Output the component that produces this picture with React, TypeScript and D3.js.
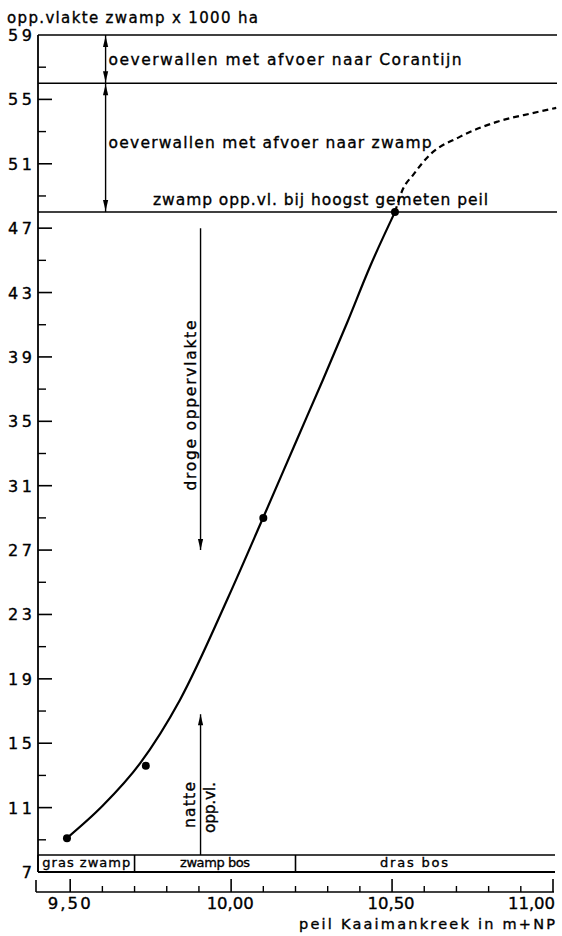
import React from "react";
import * as d3 from "d3";

// ---- data ----
const xDomain = [9.4, 11.0];
const yDomain = [7, 59];
const yMajorTicks = [7, 11, 15, 19, 23, 27, 31, 35, 39, 43, 47, 51, 55, 59];
const yMinorTicks = [9, 13, 17, 21, 25, 29, 33, 37, 41, 45, 49, 53, 57];
const xMajorTicks = [9.5, 10.0, 10.5, 11.0];
const xTickLabels = ["9,50", "10,00", "10,50", "11,00"];
const xMinorTicks = [9.6, 9.7, 9.8, 9.9, 10.1, 10.2, 10.3, 10.4, 10.6, 10.7, 10.8, 10.9];

const solidX = [9.49, 9.6, 9.717, 9.841, 9.99, 10.099, 10.204, 10.285, 10.36, 10.431, 10.509];
const solidY = [9.11, 11.1, 13.75, 17.69, 24.02, 28.99, 33.84, 37.57, 41.11, 44.59, 48.0];
const dashX = [10.509, 10.533, 10.565, 10.617, 10.71, 10.825, 10.937, 11.01];
const dashY = [48.0, 49.4, 50.3, 51.55, 52.67, 53.6, 54.15, 54.47];
const dotX = [9.49, 9.735, 10.1, 10.509];
const dotY = [9.1, 13.6, 29.0, 48.0];

const bandLevels = [59, 56, 48];
const bandLabels = [
  "oeverwallen met afvoer naar Corantijn",
  "oeverwallen met afvoer naar zwamp",
  "zwamp opp.vl. bij hoogst gemeten peil",
];
const zoneBounds = [9.4, 9.7, 10.2, 11.0];
const zoneLabels = ["gras zwamp", "zwamp bos", "dras  bos"];

const yTitle = "opp.vlakte zwamp x 1000 ha";
const xTitle = "peil Kaaimankreek in m+NP";

const FONT = "'DejaVu Sans', sans-serif";

export default function App() {
  const x = d3.scaleLinear().domain(xDomain).range([38, 553]);
  const y = d3.scaleLinear().domain(yDomain).range([872, 35]);
  const line = d3
    .line<[number, number]>()
    .x((d) => x(d[0]))
    .y((d) => y(d[1]))
    .curve(d3.curveMonotoneX);
  const solid = solidX.map((v, i) => [v, solidY[i]] as [number, number]);
  const dashed = dashX.map((v, i) => [v, dashY[i]] as [number, number]);

  const axisX = x(xDomain[0]);
  const rightEdge = 557;
  const stripTop = 855;
  const stripBottom = y(7);
  const xAxisY = 892;

  const arrowHead = (px: number, py: number, dir: number) =>
    `M${px},${py}L${px - 2.6},${py + dir * 11}L${px + 2.6},${py + dir * 11}Z`;

  const dblX = x(9.61);
  const drogeX = x(9.905);
  const txt = { stroke: "#000", strokeWidth: 0.35 };

  return (
    <svg
      width={562}
      height={936}
      style={{ position: "absolute", left: 0, top: 0, background: "#fff" }}
      fontFamily={FONT}
    >
      <rect width={562} height={936} fill="#fff" />
      <g {...txt}>
        <text x={7} y={23} fontSize={15} textLength={251} lengthAdjust="spacing">
          {yTitle}
        </text>
      </g>

      {/* y axis */}
      <line x1={axisX} x2={axisX} y1={y(59)} y2={stripBottom} stroke="#000" strokeWidth={1.8} />
      {yMajorTicks.map((t) =>
        t === 59 || t === 7 ? null : (
          <line key={"M" + t} x1={axisX} x2={axisX + 14} y1={y(t)} y2={y(t)} stroke="#000" strokeWidth={1.6} />
        )
      )}
      {yMinorTicks.map((t) => (
        <line key={"m" + t} x1={axisX} x2={axisX + 8} y1={y(t)} y2={y(t)} stroke="#000" strokeWidth={1.4} />
      ))}
      <g {...txt}>
        {yMajorTicks.map((t) => (
          <text
            key={"l" + t}
            x={32}
            y={y(t) + 6}
            fontSize={16}
            textAnchor="end"
            textLength={t < 10 ? 9 : 24}
            lengthAdjust="spacing"
          >
            {t}
          </text>
        ))}
      </g>

      {/* band lines */}
      {bandLevels.map((b) => (
        <line key={"b" + b} x1={axisX} x2={rightEdge} y1={y(b)} y2={y(b)} stroke="#000" strokeWidth={1.6} />
      ))}
      {[
        [59, 56],
        [56, 48],
      ].map(([a, b], i) => (
        <g key={"da" + i}>
          <line x1={dblX} x2={dblX} y1={y(a)} y2={y(b)} stroke="#000" strokeWidth={1.4} />
          <path d={arrowHead(dblX, y(a) + 1, 1)} fill="#000" />
          <path d={arrowHead(dblX, y(b) - 1, -1)} fill="#000" />
        </g>
      ))}
      <g {...txt}>
        <text x={dblX + 3} y={65} fontSize={15.5} textLength={353} lengthAdjust="spacing">
          {bandLabels[0]}
        </text>
        <text x={dblX + 3} y={148} fontSize={15.5} textLength={323} lengthAdjust="spacing">
          {bandLabels[1]}
        </text>
        <text x={153} y={205} fontSize={15.5} textLength={335} lengthAdjust="spacing">
          {bandLabels[2]}
        </text>
      </g>

      {/* droge oppervlakte arrow */}
      <line x1={drogeX} x2={drogeX} y1={y(47)} y2={y(27)} stroke="#000" strokeWidth={1.4} />
      <path d={arrowHead(drogeX, y(27), -1)} fill="#000" />
      {/* natte opp.vl. arrow */}
      <line x1={drogeX} x2={drogeX} y1={stripTop} y2={y(16.8)} stroke="#000" strokeWidth={1.4} />
      <path d={arrowHead(drogeX, y(16.8), 1)} fill="#000" />
      <g {...txt}>
        <text
          transform={`translate(${drogeX - 4.5},${y(30.7)}) rotate(-90)`}
          fontSize={15.5}
          textLength={170}
          lengthAdjust="spacing"
        >
          droge oppervlakte
        </text>
        <text
          transform={`translate(${drogeX - 5.5},${y(9.73)}) rotate(-90)`}
          fontSize={15.5}
          textLength={46}
          lengthAdjust="spacing"
        >
          natte
        </text>
        <text
          transform={`translate(${drogeX + 14.5},${y(9.42)}) rotate(-90)`}
          fontSize={15.5}
          textLength={51}
          lengthAdjust="spacing"
        >
          opp.vl.
        </text>
      </g>

      {/* curve */}
      <path d={line(solid) || ""} fill="none" stroke="#000" strokeWidth={2.2} />
      <path d={line(dashed) || ""} fill="none" stroke="#000" strokeWidth={2.2} strokeDasharray="6,4" />
      {dotX.map((v, i) => (
        <circle key={"d" + i} cx={x(v)} cy={y(dotY[i])} r={4} fill="#000" />
      ))}

      {/* vegetation strip */}
      <line x1={axisX} x2={rightEdge - 2} y1={stripTop} y2={stripTop} stroke="#000" strokeWidth={1.6} />
      <line x1={axisX} x2={rightEdge - 2} y1={stripBottom} y2={stripBottom} stroke="#000" strokeWidth={2} />
      <line x1={axisX} x2={axisX} y1={stripTop} y2={stripBottom} stroke="#000" strokeWidth={1.6} />
      {zoneBounds.slice(1, -1).map((b) => (
        <line key={"z" + b} x1={x(b)} x2={x(b)} y1={stripTop} y2={stripBottom} stroke="#000" strokeWidth={1.6} />
      ))}
      <g {...txt}>
        {zoneLabels.map((lab, i) => {
          const cx = i === 2 ? 414 : (x(zoneBounds[i]) + x(zoneBounds[i + 1])) / 2;
          const w = [88, 70, 68][i];
          return (
            <text key={"zl" + i} x={cx} y={867} fontSize={13} textAnchor="middle" textLength={w} lengthAdjust="spacing">
              {lab}
            </text>
          );
        })}
      </g>

      {/* x axis */}
      <line x1={axisX - 2} x2={x(11.0) + 1} y1={xAxisY} y2={xAxisY} stroke="#000" strokeWidth={1.6} />
      <line x1={axisX - 2} x2={axisX - 2} y1={xAxisY - 12} y2={xAxisY} stroke="#000" strokeWidth={1.6} />
      {xMajorTicks.map((t) => (
        <line key={"xM" + t} x1={x(t)} x2={x(t)} y1={xAxisY - 13} y2={xAxisY} stroke="#000" strokeWidth={1.6} />
      ))}
      {xMinorTicks.map((t) => (
        <line key={"xm" + t} x1={x(t)} x2={x(t)} y1={xAxisY - 6} y2={xAxisY} stroke="#000" strokeWidth={1.4} />
      ))}
      <g {...txt}>
        {xMajorTicks.map((t, i) => (
          <text
            key={"xl" + t}
            x={i === 3 ? x(t) + 2 : x(t) - 1}
            y={909}
            fontSize={16.5}
            textAnchor={i === 3 ? "end" : "middle"}
            textLength={i === 0 ? 43 : 47}
            lengthAdjust="spacing"
          >
            {xTickLabels[i]}
          </text>
        ))}
        <text x={555} y={929} fontSize={14.5} textAnchor="end" textLength={256} lengthAdjust="spacing">
          {xTitle}
        </text>
      </g>
    </svg>
  );
}
